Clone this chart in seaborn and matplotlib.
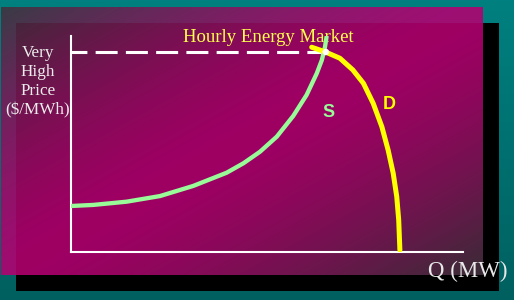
import numpy as np
import pandas as pd
import matplotlib
matplotlib.use("Agg")
import matplotlib.pyplot as plt
import seaborn as sns
from matplotlib.patches import Rectangle

# ---- data (Q in % of axis width, price in % of axis height) ----
supply_q = [0, 5.7, 14.2, 22.7, 31.2, 39.7, 44.0, 48.2, 52.5, 56.7, 60.1, 62.7, 64.0, 64.8, 65.2]
supply_p = [21.3, 21.8, 23.3, 25.9, 30.6, 36.7, 41.1, 46.4, 53.4, 63.0, 72.7, 82.7, 88.9, 95.0, 99.7]
demand_q = [61.4, 64.8, 68.6, 71.9, 74.6, 77.1, 79.3, 80.9, 82.2, 83.1, 83.6, 83.9]
demand_p = [94.8, 92.7, 89.7, 84.3, 78.1, 68.8, 58.0, 47.2, 36.4, 25.6, 14.8, 0.9]
price_line_q = [0, 65.0]
price_line_p = [92.6, 92.6]
equilibrium_q = [65.0]
equilibrium_p = [92.6]

title_text = "Hourly Energy Market"
ylabel_lines = ["Very", "High", "Price", "($/MWh)"]
xlabel_text = "Q (MW)"

sns.set_style("white")
plt.rcParams["font.family"] = ["Liberation Serif", "DejaVu Serif"]

W, H = 514, 300
fig = plt.figure(figsize=(W / 100, H / 100), dpi=100)

# ---- background (pixel coordinate axes) ----
bg = fig.add_axes([0, 0, 1, 1])
bg.set_xlim(0, W)
bg.set_ylim(H, 0)
bg.axis("off")

# teal vertical gradient
ty = np.linspace(0, 1, 100)[:, None, None]
top = np.array([0, 128, 128]) / 255
bot = np.array([0, 96, 96]) / 255
teal = top * (1 - ty) + bot * ty
teal = np.repeat(teal, 2, axis=1)
bg.imshow(teal, extent=[0, W, H, 0], aspect="auto", zorder=0, interpolation="bilinear")

# black shadow
bg.add_patch(Rectangle((16, 23), 483, 268, facecolor="black", edgecolor="none", zorder=1))

# magenta panel with diagonal gradient, semi-transparent
ny, nx = 120, 200
v = np.linspace(0, 1, ny)[:, None]
u = np.linspace(0, 1, nx)[None, :]
t = (u + v) / 2
s = np.clip(np.abs(t - 0.5) / 0.5, 0, 1) ** 1.5
mag = np.array([182, 0, 114]) / 255
gray = np.array([66, 50, 62]) / 255
rgb = mag[None, None, :] * (1 - s[..., None]) + gray[None, None, :] * s[..., None]
rgba = np.concatenate([rgb, np.full((ny, nx, 1), 0.88)], axis=2)
bg.imshow(rgba, extent=[1, 483, 275, 7], aspect="auto", zorder=2, interpolation="bilinear")

# texts
bg.text(268, 42, title_text, color="#ffff4d", fontsize=13.5, ha="center", va="baseline", zorder=5)
for i, line in enumerate(ylabel_lines):
    bg.text(38, 57 + 19 * i, line, color="#ececec", fontsize=12.3, ha="center", va="baseline", zorder=5)
bg.text(468, 277, xlabel_text, color="#e8e8e8", fontsize=16.5, ha="center", va="baseline", zorder=5)

# ---- main chart axes ----
ax = fig.add_axes([71 / W, 48 / H, 392 / W, 216 / H])
ax.patch.set_alpha(0)
ax.set_zorder(3)

supply = pd.DataFrame({"Q": supply_q, "P": supply_p})
demand = pd.DataFrame({"Q": demand_q, "P": demand_p})
pline = pd.DataFrame({"Q": price_line_q, "P": price_line_p})
eq = pd.DataFrame({"Q": equilibrium_q, "P": equilibrium_p})

sns.lineplot(data=pline, x="Q", y="P", ax=ax, color="white", linewidth=2.2,
             linestyle=(2, (7.2, 2.7)), sort=False, zorder=2)
sns.lineplot(data=supply, x="Q", y="P", ax=ax, color="#98fb98", linewidth=3.1,
             sort=False, estimator=None, zorder=3, solid_capstyle="round", solid_joinstyle="round")
sns.lineplot(data=demand, x="Q", y="P", ax=ax, color="#ffff00", linewidth=3.6,
             sort=False, estimator=None, zorder=4, solid_capstyle="round", solid_joinstyle="round")
sns.scatterplot(data=eq, x="Q", y="P", ax=ax, color="white", s=22, edgecolor="none", zorder=5)

ax.set_xlim(0, 100)
ax.set_ylim(0, 100)
ax.set_xlabel("")
ax.set_ylabel("")
ax.set_xticks([])
ax.set_yticks([])
for side in ["top", "right"]:
    ax.spines[side].set_visible(False)
for side in ["left", "bottom"]:
    ax.spines[side].set_color("white")
    ax.spines[side].set_linewidth(1.5)

ax.text(65.6, 64.5, "S", color="#98fb98", fontsize=13, fontweight="bold",
        family="Liberation Sans", ha="center", va="center")
ax.text(81.2, 68.5, "D", color="#ffff00", fontsize=13, fontweight="bold",
        family="Liberation Sans", ha="center", va="center")

fig.savefig("out.png", dpi=100)
